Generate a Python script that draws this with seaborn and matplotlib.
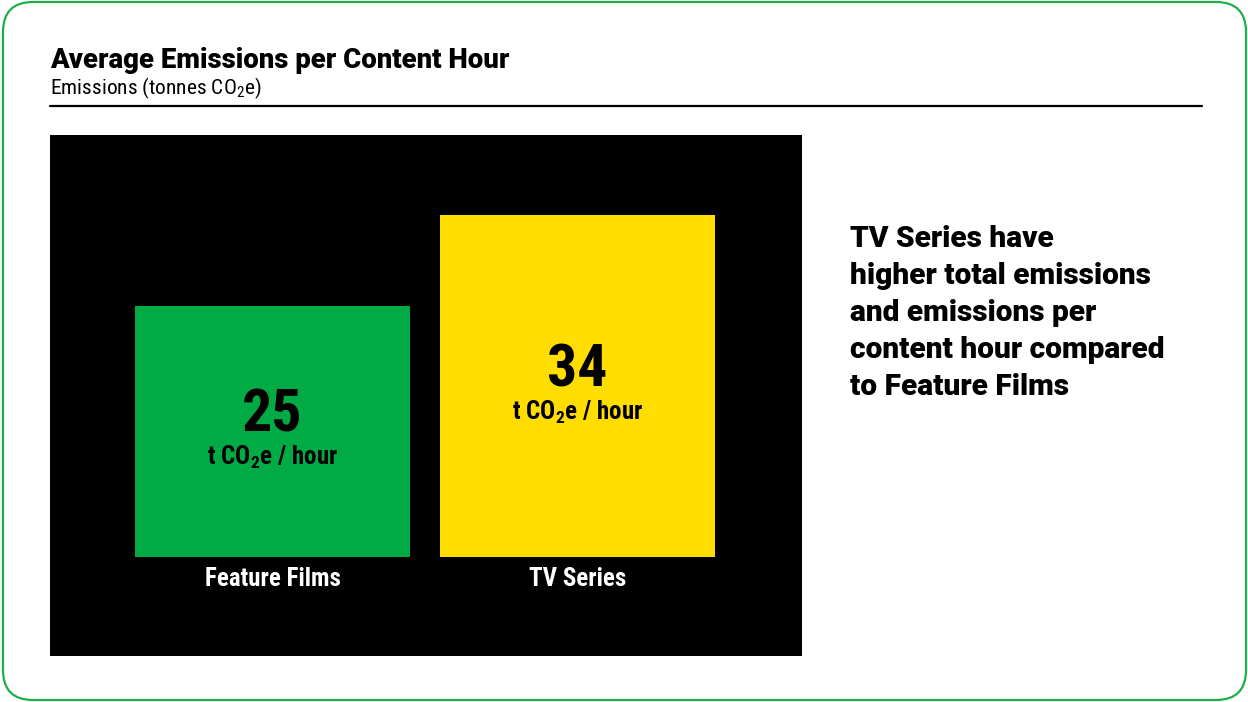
import matplotlib
matplotlib.use("Agg")
import matplotlib.pyplot as plt
from matplotlib import font_manager
from matplotlib.patches import FancyBboxPatch
from matplotlib.lines import Line2D
import seaborn as sns
import pandas as pd

# Chart data
categories = ["Feature Films", "TV Series"]
values = [25, 34]
bar_colors = ["#00ab45", "#ffdd00"]
unit_label = "t CO$_2$e / hour"
title = "Average Emissions per Content Hour"
subtitle = "Emissions (tonnes CO$_2$e)"
note_lines = [
    "TV Series have",
    "higher total emissions",
    "and emissions per",
    "content hour compared",
    "to Feature Films",
]

sns.set_theme(style="white")

# Narrow face for labels, a wider heavy face for headings
available = {f.name for f in font_manager.fontManager.ttflist}
narrow = next((n for n in ["Roboto Condensed", "Liberation Sans Narrow"]
               if n in available), "Liberation Sans")
HEAVY = ["Roboto", "DejaVu Sans"]
plt.rcParams["font.family"] = [narrow, "DejaVu Sans"]
plt.rcParams["mathtext.default"] = "regular"

W, H = 1248, 702
fig = plt.figure(figsize=(W / 100, H / 100), dpi=100)
fig.patch.set_facecolor("white")

# Rounded green frame around the whole card
frame = FancyBboxPatch((0.03, 0.02), (1246 - 3) / 100, (700 - 2) / 100,
                       boxstyle="round,pad=0,rounding_size=0.3",
                       transform=fig.dpi_scale_trans, facecolor="none",
                       edgecolor="#1fae4b", linewidth=1.6)
fig.add_artist(frame)

# Header
fig.text(50 / W, 1 - 68 / H, title, fontsize=19.8, fontweight="heavy",
         family=HEAVY, color="black", ha="left", va="baseline")
fig.text(50 / W, 1 - 94 / H, subtitle, fontsize=15.4, color="black",
         ha="left", va="baseline")
fig.add_artist(Line2D([50 / W, 1202 / W], [1 - 106 / H, 1 - 106 / H],
                      transform=fig.transFigure, color="black", linewidth=1.6))

# Bar panel
ax = fig.add_axes([50 / W, (H - 656) / H, 752 / W, 521 / H])
df = pd.DataFrame({"category": categories, "value": values})
sns.barplot(data=df, x="category", y="value", hue="category",
            palette=bar_colors, width=0.9, saturation=1, legend=False,
            edgecolor="none", ax=ax)
ax.set_facecolor("black")
ax.set_xlim(-0.7295, 1.7361)
ax.set_ylim(-9.85, 41.99)
ax.set_xticks([])
ax.set_yticks([])
ax.set_xlabel("")
ax.set_ylabel("")
for s in ax.spines.values():
    s.set_visible(False)

for patch, v, cat in zip(ax.patches, values, categories):
    cx = patch.get_x() + patch.get_width() / 2
    mid = patch.get_height() / 2
    ax.annotate(f"{v}", (cx, mid), xytext=(0, 11.5), textcoords="offset points",
                ha="center", va="center", fontsize=43, fontweight="bold",
                color="black")
    ax.annotate(unit_label, (cx, mid), xytext=(0, -19), textcoords="offset points",
                ha="center", va="center", fontsize=18, fontweight="bold",
                color="black")
    ax.annotate(cat, (cx, 0), xytext=(0, -15.5), textcoords="offset points",
                ha="center", va="center", fontsize=18, fontweight="bold",
                color="white")

# Side note
fig.text(850 / W, 1 - 313 / H, "\n".join(note_lines), fontsize=21.5,
         fontweight="heavy", family=HEAVY, color="black", ha="left",
         va="center", linespacing=1.4)

fig.savefig("out.png", dpi=100, facecolor="white")
